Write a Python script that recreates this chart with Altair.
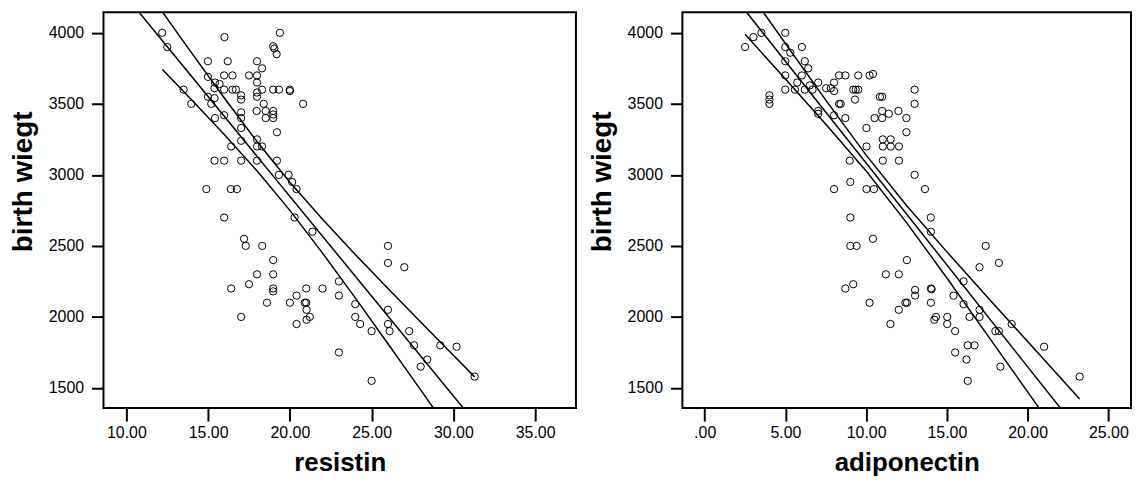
import altair as alt
import pandas as pd

# ---------------- data: resistin panel ----------------
res_x = [12.19, 12.5, 16.0, 19.39, 18.98, 19.05, 19.19, 14.99, 16.2, 17.99, 18.3, 15.98, 16.49, 17.5, 17.99,
         14.99, 15.42, 15.7, 17.99, 13.5, 15.39, 15.98, 16.49, 16.7, 17.99, 18.3, 18.98, 19.33, 20.0, 20.0,
         14.99, 15.39, 17.02, 17.02, 17.99, 13.97, 15.19, 18.4, 20.81, 17.97, 18.52, 18.98, 17.02, 18.98,
         18.98, 18.52, 17.02, 15.42, 15.98, 19.21, 17.02, 16.41, 17.02, 17.99, 17.99, 18.3, 15.39, 15.98,
         17.02, 17.99, 19.21, 19.33, 19.92, 20.14, 20.41, 14.89, 16.39, 16.76, 15.98, 20.29,
         21.38, 17.2, 17.3, 18.31, 18.98, 17.99, 18.98, 17.5, 16.41, 18.98, 18.98, 21.0, 22.0, 20.41,
         18.6, 20.0, 20.91, 21.0, 21.02, 21.22, 21.02, 17.02, 20.41,
         26.0, 26.0, 27.0, 23.0, 23.0, 24.0, 24.0, 24.3, 25.0, 26.0, 26.0, 26.1, 27.3, 27.6, 29.2, 30.2,
         28.4, 28.0, 31.3, 23.0, 25.0]
res_y = [4000, 3900, 3970, 4000, 3905, 3890, 3850, 3800, 3800, 3800, 3750, 3700, 3700, 3700, 3700,
         3690, 3650, 3640, 3650, 3600, 3610, 3600, 3600, 3600, 3580, 3600, 3600, 3600, 3600, 3590,
         3550, 3540, 3560, 3530, 3550, 3500, 3500, 3500, 3500, 3450, 3450, 3450, 3440, 3425,
         3400, 3400, 3400, 3400, 3420, 3300, 3330, 3200, 3240, 3250, 3200, 3200, 3100, 3100,
         3100, 3100, 3100, 3000, 3000, 2950, 2900, 2900, 2900, 2900, 2700, 2700,
         2600, 2550, 2500, 2500, 2400, 2300, 2300, 2230, 2200, 2200, 2180, 2200, 2200, 2150,
         2100, 2100, 2100, 2100, 2050, 2000, 1980, 2000, 1950,
         2500, 2380, 2350, 2250, 2150, 2090, 2000, 1950, 1900, 2050, 1950, 1900, 1900, 1800, 1800, 1790,
         1700, 1650, 1580, 1750, 1550]

# fit line (intercept, slope) and mean confidence band
res_fit = [5658.8, -140.5]
res_band_x = [12.19, 14, 16, 18, 20, 22, 24, 26, 28, 30, 31.3]
res_band_up = [4149, 3857, 3539, 3233, 2948, 2687, 2440, 2200, 1964, 1730, 1578]
res_band_lo = [3743, 3527, 3283, 3027, 2750, 2449, 2134, 1811, 1486, 1158, 945]

# ---------------- data: adiponectin panel ----------------
adi_x = [2.5, 3.02, 3.51, 4.99, 4.99, 6.02, 5.3, 4.99, 6.2, 6.41, 4.99, 6.02, 5.73, 7.03, 6.51, 6.68,
         4.99, 5.59, 6.2, 7.52, 7.81, 8.01, 8.01, 8.32, 8.71, 9.51, 10.21, 10.42, 9.2, 9.35, 9.51, 9.31,
         8.32, 8.42, 4.01, 4.01, 4.01, 10.85, 10.99, 13.0, 13.0, 12.0, 10.99, 11.4, 10.99, 10.52, 12.49,
         7.03, 7.03, 8.01, 8.71, 10.02, 12.49, 10.02, 11.03, 11.52, 11.03, 11.52, 12.03, 8.98, 11.03,
         12.03, 13.0, 9.02, 8.01, 10.02, 10.48, 9.02, 13.64, 14.0, 9.02, 9.41, 10.42, 12.52, 11.22,
         12.02, 8.71, 9.2, 10.21, 12.02, 12.43, 12.53, 13.03, 13.03, 11.5, 14.01, 17.4, 18.22, 17.02,
         16.03, 14.01, 14.05, 14.01, 15.41, 16.03, 17.02, 16.4, 17.02, 14.32, 14.22, 15.02, 15.02,
         15.51, 18.0, 18.22, 19.01, 16.29, 16.71, 15.51, 16.21, 18.31, 16.29, 21.02, 23.22]
adi_y = [3900, 3970, 4000, 4000, 3900, 3900, 3860, 3800, 3800, 3750, 3700, 3700, 3650, 3650, 3630, 3600,
         3600, 3600, 3600, 3610, 3610, 3590, 3650, 3700, 3700, 3700, 3700, 3710, 3600, 3600, 3600, 3530,
         3500, 3500, 3560, 3530, 3500, 3550, 3550, 3600, 3500, 3450, 3450, 3430, 3400, 3400, 3400,
         3450, 3430, 3420, 3400, 3330, 3300, 3200, 3250, 3250, 3200, 3200, 3200, 3100, 3100,
         3100, 3000, 2950, 2900, 2900, 2900, 2700, 2900, 2700, 2500, 2500, 2550, 2400, 2300,
         2300, 2200, 2230, 2100, 2050, 2100, 2100, 2190, 2150, 1950, 2600, 2500, 2380, 2350,
         2250, 2200, 2195, 2100, 2150, 2090, 2050, 2000, 2000, 2000, 1980, 2000, 1950,
         1900, 1900, 1900, 1950, 1800, 1800, 1750, 1700, 1650, 1550, 1790, 1580]

adi_fit = [4517.0, -143.4]
adi_band_x = [2.5, 5, 7.5, 10, 12.5, 15, 17.5, 20, 23.22]
adi_band_up = [4327, 3925, 3526, 3139, 2785, 2458, 2141, 1827, 1423]
adi_band_lo = [3990, 3675, 3357, 3027, 2664, 2274, 1874, 1472, 951]

# axis settings
res_domain = [8.6, 37.5]
res_ticks = [10, 15, 20, 25, 30, 35]
adi_domain = [-1.38, 26.4]
adi_ticks = [0, 5, 10, 15, 20, 25]
y_domain = [1358, 4145]
y_ticks = [1500, 2000, 2500, 3000, 3500, 4000]

FONT = "Liberation Sans"
AX = dict(labelFont=FONT, labelFontSize=16, labelColor="black",
          titleFont=FONT, titleFontWeight="bold", titleColor="black",
          grid=False, domain=False, tickWidth=2, tickColor="black")


def panel(px, py, fit, bx, bup, blo, xdom, xticks, xtitle, width):
    pts = pd.DataFrame({"x": px, "y": py})
    rows = []
    for xv in xdom:
        rows.append({"x": xv, "y": fit[0] + fit[1] * xv, "line": "fit", "o": xv})
    for xv, u, l in zip(bx, bup, blo):
        rows.append({"x": xv, "y": u, "line": "upper", "o": xv})
        rows.append({"x": xv, "y": l, "line": "lower", "o": xv})
    lines = pd.DataFrame(rows)

    xs = alt.Scale(domain=xdom, nice=False, zero=False)
    ys = alt.Scale(domain=y_domain, nice=False, zero=False)
    xax = alt.Axis(values=xticks, title=xtitle,
                   labelExpr="datum.value == 0 ? '.00' : format(datum.value, '.2f')",
                   tickSize=13, labelPadding=4, titlePadding=9, labelFlush=False,
                   titleFontSize=26, **AX)
    yax = alt.Axis(values=y_ticks, title="birth wiegt", format="d",
                   tickSize=12, labelPadding=8, titlePadding=11, titleY=170,
                   titleFontSize=28, **AX)

    scatter = alt.Chart(pts).mark_point(
        shape="circle", filled=False, color="black", size=54, strokeWidth=1, opacity=1
    ).encode(
        x=alt.X("x:Q", scale=xs, axis=xax),
        y=alt.Y("y:Q", scale=ys, axis=yax),
    )
    ln = alt.Chart(lines).mark_line(color="black", strokeWidth=1.5, clip=True).encode(
        x=alt.X("x:Q", scale=xs),
        y=alt.Y("y:Q", scale=ys),
        detail="line:N",
        order="o:Q",
    )
    return alt.layer(ln, scatter).properties(width=width, height=398)


left = panel(res_x, res_y, res_fit, res_band_x, res_band_up, res_band_lo,
             res_domain, res_ticks, "resistin", 475)
right = panel(adi_x, adi_y, adi_fit, adi_band_x, adi_band_up, adi_band_lo,
              adi_domain, adi_ticks, "adiponectin", 451)

chart = alt.hconcat(left, right, spacing=10).properties(
    padding={"left": 0, "top": 2, "right": 0, "bottom": 0},
    background="white",
).configure_view(
    stroke="black", strokeWidth=2
)

chart.save("out.html", embed_options={"renderer": "svg", "actions": False})
